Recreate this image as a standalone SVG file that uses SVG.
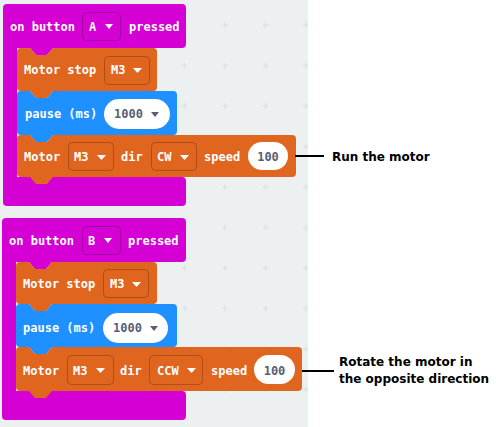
<svg xmlns="http://www.w3.org/2000/svg" width="496" height="427" viewBox="0 0 496 427">
<defs>
<pattern id="grid" patternUnits="userSpaceOnUse" x="2" y="4.5" width="40.5" height="40.5">
<path d="M17.5,20.5 h6 M20.5,17.5 v6" stroke="#d9dde0" stroke-width="1" fill="none"/>
</pattern>
<style>
.hat{fill:#D400D4}
.mot{fill:#E0661F}
.pau{fill:#1E90FF}
.lbl{font-family:"DejaVu Sans Mono",monospace;font-weight:bold;font-size:12px;fill:#fff}
.val{font-family:"DejaVu Sans Mono",monospace;font-weight:bold;font-size:12px;fill:#575E75}
.dd{stroke:rgba(0,0,0,0.22);stroke-width:1}
.pill{fill:#fff}
.tri{fill:#fff}
.trid{fill:#575E75}
.note{font-family:"DejaVu Sans",sans-serif;font-weight:bold;font-size:12px;fill:#000}
.conn{stroke:#000;stroke-width:2;fill:none}
</style>
</defs>
<rect x="0" y="0" width="496" height="427" fill="#fff"/>
<rect x="0" y="0" width="308" height="427" fill="#ecf0f1"/>
<rect x="0" y="0" width="308" height="427" fill="url(#grid)"/>

<g id="hatA">
<path class="hat" d="M3,8 a4,4 0 0 1 4,-4 H182 a4,4 0 0 1 4,4 V44 a4,4 0 0 1 -4,4 H53 l-6,7 h-11 l-6,-7 H17 V177 H182 a4,4 0 0 1 4,4 V202 a4,4 0 0 1 -4,4 H7 a4,4 0 0 1 -4,-4 Z"/>
<text class="lbl" x="10" y="31">on button</text>
<rect class="hat dd" x="82.5" y="12.5" width="38" height="28" rx="4"/>
<text class="lbl" x="89" y="31">A</text>
<polygon class="tri" points="105,24 113,24 109,29"/>
<text class="lbl" x="129" y="31">pressed</text>
</g>

<g id="stopA">
<path class="mot" d="M17,52 a4,4 0 0 1 4,-4 h9 l6,7 h11 l6,-7 H153 a4,4 0 0 1 4,4 V87 a4,4 0 0 1 -4,4 H53 l-6,7 h-11 l-6,-7 H21 a4,4 0 0 1 -4,-4 Z"/>
<text class="lbl" x="24" y="74">Motor stop</text>
<rect class="mot dd" x="104.5" y="56.5" width="45" height="28" rx="4"/>
<text class="lbl" x="111" y="74">M3</text>
<polygon class="tri" points="133,68 142,68 137.5,73"/>
</g>

<g id="pauseA">
<path class="pau" d="M17,95 a4,4 0 0 1 4,-4 h9 l6,7 h11 l6,-7 H173 a4,4 0 0 1 4,4 V131 a4,4 0 0 1 -4,4 H53 l-6,7 h-11 l-6,-7 H21 a4,4 0 0 1 -4,-4 Z"/>
<text class="lbl" x="25" y="118">pause (ms)</text>
<rect class="pill" x="104" y="99" width="66" height="30" rx="15"/>
<text class="val" x="114" y="118">1000</text>
<polygon class="trid" points="151,112 159,112 155,117"/>
</g>

<g id="motorA">
<path class="mot" d="M17,139 a4,4 0 0 1 4,-4 h9 l6,7 h11 l6,-7 H292 a4,4 0 0 1 4,4 V173 a4,4 0 0 1 -4,4 H53 l-6,7 h-11 l-6,-7 H21 a4,4 0 0 1 -4,-4 Z"/>
<text class="lbl" x="24" y="161">Motor</text>
<rect class="mot dd" x="68.5" y="142.5" width="45" height="28" rx="4"/>
<text class="lbl" x="74" y="161">M3</text>
<polygon class="tri" points="97,155 106,155 101.5,160"/>
<text class="lbl" x="121" y="161">dir</text>
<rect class="mot dd" x="151.5" y="142.5" width="45" height="28" rx="4"/>
<text class="lbl" x="157" y="161">CW</text>
<polygon class="tri" points="180,155 189,155 184.5,160"/>
<text class="lbl" x="204" y="161">speed</text>
<rect class="pill" x="248" y="142" width="40" height="28" rx="14"/>
<text class="val" x="268" y="161" text-anchor="middle">100</text>
</g>

<g id="hatB">
<path class="hat" d="M2,222 a4,4 0 0 1 4,-4 H182 a4,4 0 0 1 4,4 V258 a4,4 0 0 1 -4,4 H52 l-6,7 h-11 l-6,-7 H16 V391 H182 a4,4 0 0 1 4,4 V416 a4,4 0 0 1 -4,4 H6 a4,4 0 0 1 -4,-4 Z"/>
<text class="lbl" x="9" y="245">on button</text>
<rect class="hat dd" x="82.5" y="226.5" width="38" height="28" rx="4"/>
<text class="lbl" x="88" y="245">B</text>
<polygon class="tri" points="104,238 112,238 108,243"/>
<text class="lbl" x="128" y="245">pressed</text>
</g>

<g id="stopB">
<path class="mot" d="M16,266 a4,4 0 0 1 4,-4 h9 l6,7 h11 l6,-7 H153 a4,4 0 0 1 4,4 V300 a4,4 0 0 1 -4,4 H52 l-6,7 h-11 l-6,-7 H20 a4,4 0 0 1 -4,-4 Z"/>
<text class="lbl" x="23" y="288">Motor stop</text>
<rect class="mot dd" x="103.5" y="269.5" width="45" height="28" rx="4"/>
<text class="lbl" x="110" y="288">M3</text>
<polygon class="tri" points="132,282 141,282 136.5,287"/>
</g>

<g id="pauseB">
<path class="pau" d="M16,308 a4,4 0 0 1 4,-4 h9 l6,7 h11 l6,-7 H173 a4,4 0 0 1 4,4 V343 a4,4 0 0 1 -4,4 H52 l-6,7 h-11 l-6,-7 H20 a4,4 0 0 1 -4,-4 Z"/>
<text class="lbl" x="23" y="332">pause (ms)</text>
<rect class="pill" x="103" y="313" width="65" height="30" rx="15"/>
<text class="val" x="113" y="332">1000</text>
<polygon class="trid" points="150,326 158,326 154,331"/>
</g>

<g id="motorB">
<path class="mot" d="M16,351 a4,4 0 0 1 4,-4 h9 l6,7 h11 l6,-7 H298 a4,4 0 0 1 4,4 V387 a4,4 0 0 1 -4,4 H52 l-6,7 h-11 l-6,-7 H20 a4,4 0 0 1 -4,-4 Z"/>
<text class="lbl" x="23" y="375">Motor</text>
<rect class="mot dd" x="67.5" y="355.5" width="46" height="29" rx="4"/>
<text class="lbl" x="73" y="375">M3</text>
<polygon class="tri" points="96,368 105,368 100.5,373"/>
<text class="lbl" x="120" y="375">dir</text>
<rect class="mot dd" x="149.5" y="355.5" width="53" height="29" rx="4"/>
<text class="lbl" x="157" y="375">CCW</text>
<polygon class="tri" points="187,368 196,368 191.5,373"/>
<text class="lbl" x="211" y="375">speed</text>
<rect class="pill" x="254" y="355" width="41" height="29" rx="14.5"/>
<text class="val" x="274.5" y="375" text-anchor="middle">100</text>
</g>

<g id="connectors">
<line class="conn" x1="295" y1="156" x2="324" y2="156"/>
<line class="conn" x1="302" y1="371" x2="334" y2="371"/>
</g>

<g id="noteA">
<text class="note" x="332" y="161">Run the motor</text>
</g>
<g id="noteB">
<text class="note" x="339" y="365.5">Rotate the motor in</text>
<text class="note" x="339" y="383">the opposite direction</text>
</g>
</svg>
